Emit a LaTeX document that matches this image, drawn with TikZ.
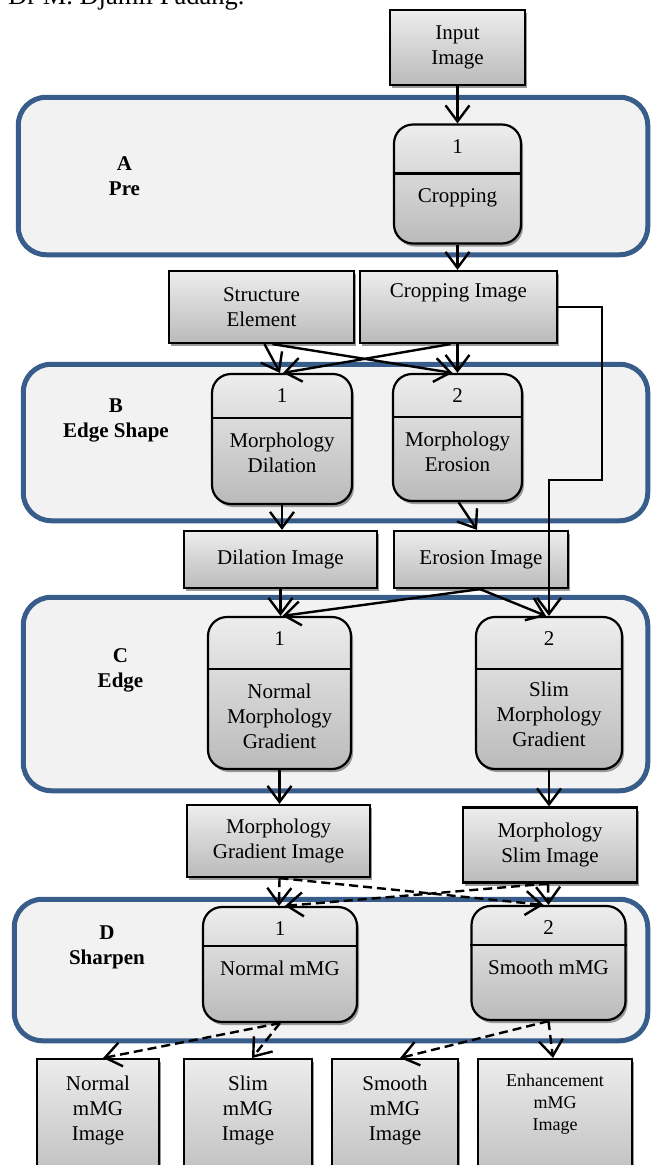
\documentclass[tikz,border=0pt]{standalone}
\usepackage{fontspec}
\setmainfont{Liberation Serif}
\usetikzlibrary{positioning,calc,shadows,arrows.meta}
\definecolor{colorStage}{RGB}{56,93,138}
\definecolor{colorStageBg}{RGB}{242,242,242}
\tikzset{
   every path/.style={>={Straight Barb[length=16pt,width=24pt]}},
   stage/.style={draw=colorStage,line width=5pt,fill=colorStageBg,rounded corners=28pt,inner sep=0pt},
   stagelbl/.style={font=\fontsize{21}{25}\selectfont\bfseries,align=center,inner sep=0pt},
   imgbox/.style={draw,line width=2.2pt,top color=black!7,bottom color=black!27,
      drop shadow={shadow xshift=2pt,shadow yshift=-3pt,fill=black!40,opacity=1},
      align=center,inner sep=0pt},
   procbox/.style={imgbox,rounded corners=19pt},
   txt/.style={align=center,inner sep=0pt},
   divider/.style={line width=2.2pt},
   flow/.style={->,line width=2.4pt},
   flowd/.style={->,line width=2.4pt,dash pattern=on 9pt off 5pt},
}
\begin{document}
\begin{tikzpicture}[x=1pt,y=-1pt,font=\fontsize{21}{25}\selectfont]
      % y grows downwards: offsets (0,+d) go down
      \useasboundingbox (0,0) rectangle (651,1165);

      \node (cap) [anchor=base west,inner sep=0pt,font=\fontsize{26.5}{30}\selectfont]
        at (8,4) {Dr M. Djamil Padang.};

      % stages
      \node (stA) [stage,minimum width=629.5pt,minimum height=157.5pt] at (333,176) {};
      \node (stB) [stage,minimum width=624.5pt,minimum height=156.5pt] at (335.5,442.5) {};
      \node (stC) [stage,minimum width=624.5pt,minimum height=193.5pt] at (335.5,694) {};
      \node (stD) [stage,minimum width=633.5pt,minimum height=141.5pt] at (331,970) {};

      \node (lblA) [stagelbl] at (124.5,176) {A\\Pre};
      \node (lblB) [stagelbl] at (116,420) {B\\Edge Shape};
      \node (lblC) [stagelbl] at (120.5,670) {C\\Edge};
      \node (lblD) [stagelbl] at (107,947) {D\\Sharpen};

      % data
      \node (in) [imgbox,minimum width=135pt,minimum height=75pt]
        at (457.5,47.5) {Input\\Image};

      \node (se) [imgbox,minimum width=185pt,minimum height=72pt]
        at (261.5,307) {Structure\\Element};

      \node (ci) [imgbox,minimum width=197pt,minimum height=72pt,
        right of = se, node distance = 197pt]
        % at (458.5,307)
        {Cropping Image\\\strut};

      \node (di) [imgbox,minimum width=193pt,minimum height=57pt]
        at (280.5,559.5) {Dilation Image};

      \node (ei) [imgbox,minimum width=174pt,minimum height=57pt,
        right of = di, node distance = 200.5pt]
        % at (481,559.5)
        {Erosion Image};

      \node (mgi) [imgbox,minimum width=183pt,minimum height=72pt]
        at (278.5,841) {Morphology\\Gradient Image};

      \node (msi) [imgbox,minimum width=174pt,minimum height=75pt]
        at (550,845) {Morphology\\Slim Image};

      % results, cut at the bottom edge
      \node (o1) [imgbox,anchor=north,minimum width=122pt,minimum height=130pt] at (98,1058) {};
      \node (o2) [imgbox,anchor=north,minimum width=128pt,minimum height=130pt] at (248,1058) {};
      \node (o3) [imgbox,anchor=north,minimum width=126pt,minimum height=130pt] at (395,1058) {};
      \node (o4) [imgbox,anchor=north,minimum width=154pt,minimum height=130pt] at (555,1058) {};
      \node (o1t) [txt,anchor=north] at ($(o1.north)+(0,18)$) {Normal\\mMG\\Image};
      \node (o2t) [txt,anchor=north] at ($(o2.north)+(0,18)$) {Slim\\mMG\\Image};
      \node (o3t) [txt,anchor=north] at ($(o3.north)+(0,18)$) {Smooth\\mMG\\Image};
      \node (o4t) [txt,anchor=north,font=\fontsize{18}{22}\selectfont]
        at ($(o4.north)+(0,16)$) {Enhancement\\mMG\\Image};

      % processes
      \node (pa1) [procbox,minimum width=127pt,minimum height=119pt] at (457.5,184) {};
      \node (pb1) [procbox,minimum width=140pt,minimum height=130pt] at (282,439) {};
      \node (pb2) [procbox,minimum width=129pt,minimum height=127pt] at (457.5,437.5) {};
      \node (pc1) [procbox,minimum width=143pt,minimum height=152pt] at (279.5,693) {};
      \node (pc2) [procbox,minimum width=146pt,minimum height=152pt] at (549,693) {};
      \node (pd1) [procbox,minimum width=154pt,minimum height=115pt] at (280,964.5) {};
      \node (pd2) [procbox,minimum width=154pt,minimum height=114pt] at (548.5,963) {};

      \draw[divider] ($(pa1.north west)+(0,50)$) -- ($(pa1.north east)+(0,50)$);
      \draw[divider] ($(pb1.north west)+(0,45)$) -- ($(pb1.north east)+(0,45)$);
      \draw[divider] ($(pb2.north west)+(0,44)$) -- ($(pb2.north east)+(0,44)$);
      \draw[divider] ($(pc1.north west)+(0,53)$) -- ($(pc1.north east)+(0,53)$);
      \draw[divider] ($(pc2.north west)+(0,53)$) -- ($(pc2.north east)+(0,53)$);
      \draw[divider] ($(pd1.north west)+(0,40)$) -- ($(pd1.north east)+(0,40)$);
      \draw[divider] ($(pd2.north west)+(0,40)$) -- ($(pd2.north east)+(0,40)$);

      \node (pa1n) [txt] at ($(pa1.north)+(0,23)$) {1};
      \node (pb1n) [txt] at ($(pb1.north)+(0,23)$) {1};
      \node (pb2n) [txt] at ($(pb2.north)+(0,23)$) {2};
      \node (pc1n) [txt] at ($(pc1.north)+(0,23)$) {1};
      \node (pc2n) [txt] at ($(pc2.north)+(0,23)$) {2};
      \node (pd1n) [txt] at ($(pd1.north)+(0,23)$) {1};
      \node (pd2n) [txt] at ($(pd2.north)+(0,23)$) {2};

      \node (pa1t) [txt,anchor=north] at ($(pa1.north)+(0,65)$) {Cropping};
      \node (pb1t) [txt,anchor=north] at ($(pb1.north)+(0,60)$) {Morphology\\Dilation};
      \node (pb2t) [txt,anchor=north] at ($(pb2.north)+(0,59)$) {Morphology\\Erosion};
      \node (pc1t) [txt,anchor=north] at ($(pc1.north)+(0,68)$) {Normal\\Morphology\\Gradient};
      \node (pc2t) [txt,anchor=north] at ($(pc2.north)+(0,66)$) {Slim\\Morphology\\Gradient};
      \node (pd1t) [txt,anchor=north] at ($(pd1.north)+(0,55)$) {Normal mMG};
      \node (pd2t) [txt,anchor=north] at ($(pd2.north)+(0,55)$) {Smooth mMG};

      % solid flow
      \draw[flow] (in.south) -- (pa1.north);
      \draw[flow] (pa1.south) -- (pa1.south |- ci.north);
      \draw[flow] ($(se.south)+(3,0)$) -- ($(pb1.north)+(-2,0)$);
      \draw[flow] ($(se.south)+(11,0)$) -- ($(pb2.north)+(-5,0)$);
      \draw[flow] ($(ci.south)+(-1,0)$) -- (pb2.north);
      \draw[flow] ($(ci.south)+(-8,0)$) -- ($(pb1.north)+(1,0)$);
      \coordinate (bend) at (602,480);
      \draw[flow] (ci.east) -| (bend) -| (pc2.north);
      \draw[flow] (pb1.south) -- (pb1.south |- di.north);
      \draw[flow] ($(pb2.south)+(1,0)$) -- ($(ei.north)+(-4,0)$);
      \draw[flow] (di.south) -- (di.south |- pc1.north);
      \draw[flow] ($(ei.south)+(-1,0)$) -- ($(pc1.north)+(3,0)$);
      \draw[flow] ($(ei.south)+(-1,0)$) -- ($(pc2.north)+(-3,0)$);
      \draw[flow] (pc1.south) -- (pc1.south |- mgi.north);
      \draw[flow] (pc2.south) -- (pc2.south |- msi.north);

      % dashed flow
      \draw[flowd] ($(mgi.south)+(1,0)$) -- ($(pd1.north)+(-1,0)$);
      \draw[flowd] ($(mgi.south)+(1,0)$) -- ($(pd2.north)+(-5,0)$);
      \draw[flowd] ($(msi.south)+(-2,0)$) -- (pd2.north);
      \draw[flowd] ($(msi.south)+(-2,0)$) -- ($(pd1.north)+(5,0)$);
      \draw[flowd] (pd1.south) -- ($(o1.north)+(5,0)$);
      \draw[flowd] (pd1.south) -- ($(o2.north)+(4,0)$);
      \draw[flowd] (pd2.south) -- ($(o3.north)+(5,0)$);
      \draw[flowd] (pd2.south) -- ($(o4.north)+(-2,0)$);
\end{tikzpicture}
\end{document}
